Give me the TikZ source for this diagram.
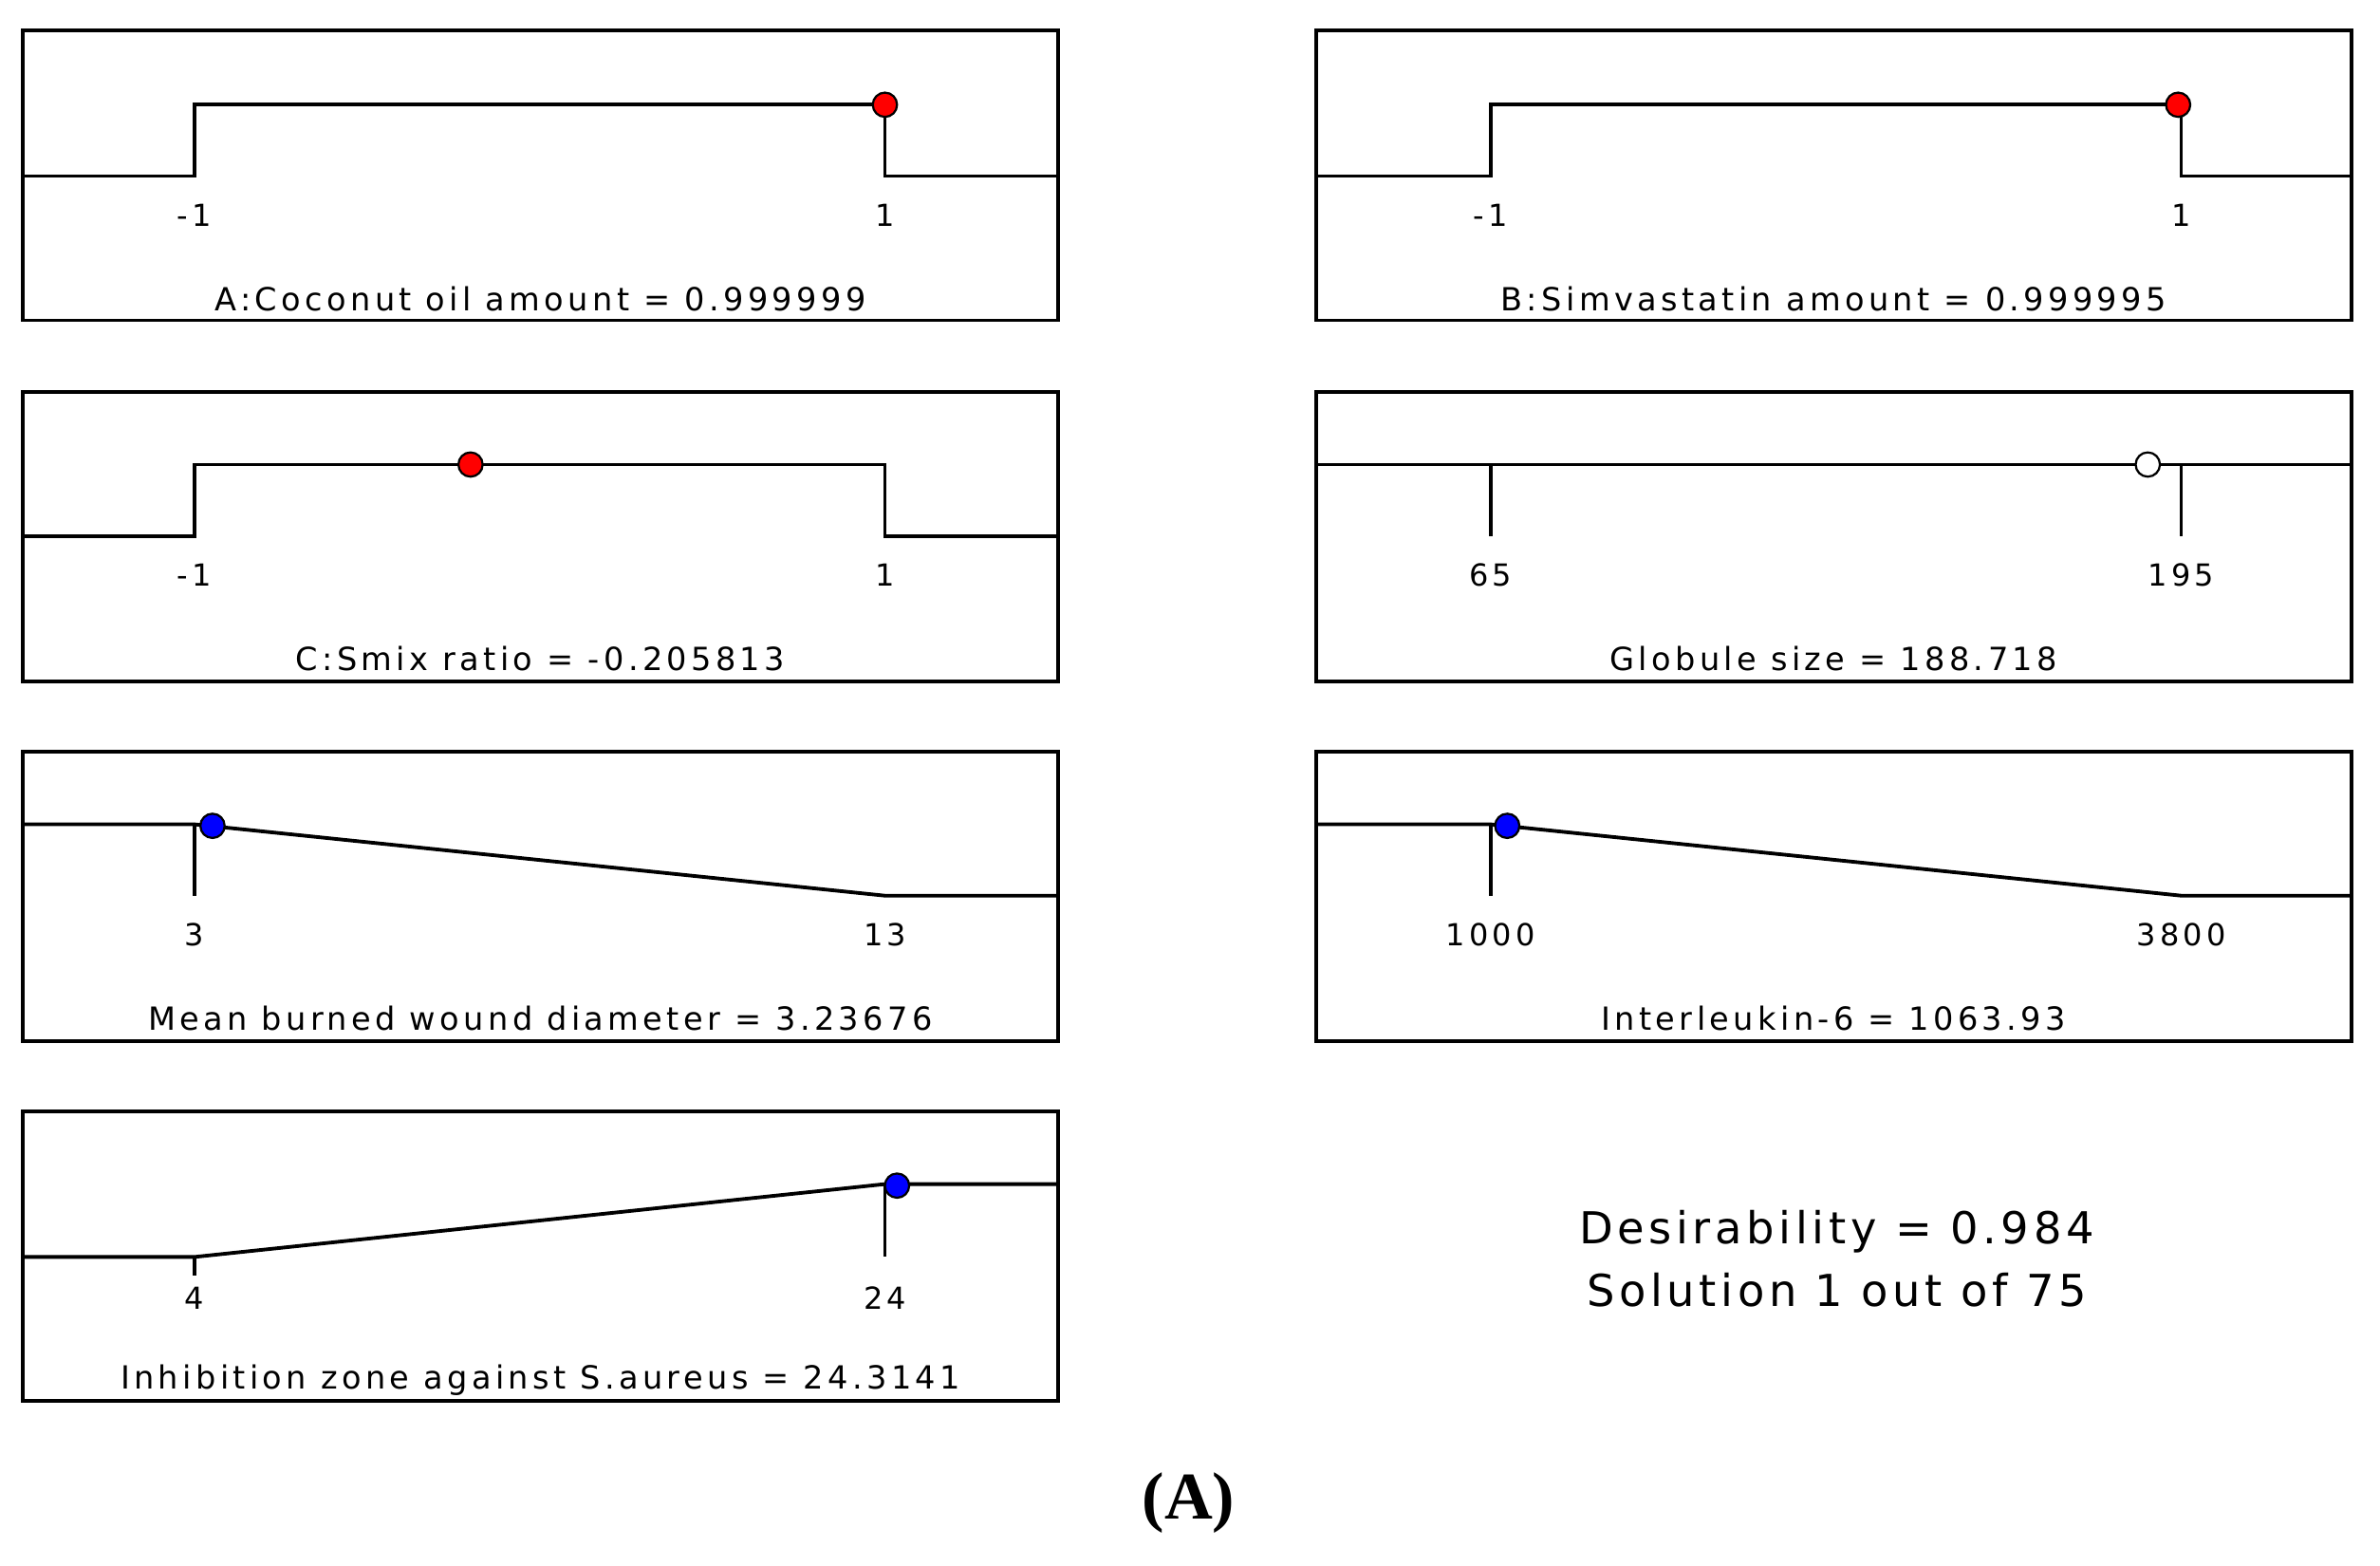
\documentclass[tikz,border=0pt]{standalone}
\usepackage{fontspec}
\setmainfont[LetterSpace=13]{DejaVu Sans}
\newfontfamily\desfont[LetterSpace=10]{DejaVu Sans}
\newfontfamily\serifA{Liberation Serif}
\begin{document}
\begin{tikzpicture}[x=1pt,y=-1pt,
  panel/.style={draw,line width=2.4pt},
  curve/.style={line width=2.4pt},
  lab/.style={font=\fontsize{20}{22}\selectfont},
  ttl/.style={font=\fontsize{21}{22}\selectfont},
  rdot/.style={circle,draw,line width=1.4pt,fill=red,minimum size=16pt,inner sep=0pt},
  bdot/.style={circle,draw,line width=1.4pt,fill=blue,minimum size=16pt,inner sep=0pt},
  wdot/.style={circle,draw,line width=1.4pt,fill=white,minimum size=16pt,inner sep=0pt}]
\useasboundingbox (0,0) rectangle (1568,1031);
% panels
\foreach \x/\n in {15/L,867/R}{
  \foreach \y/\r in {20/1,258/2,495/3}{
    \draw[panel] (\x,\y) rectangle ++(682,191);
  }
}
\draw[panel] (15,732) rectangle ++(682,191);
% A
\draw[curve] (15,116) -- (128,116) -- (128,69) -- (583,69) -- (583,116) -- (697,116);
\node[rdot] (dA) at (583,69) {};
\node[lab] at (128,142) {-1}; \node[lab] at (583,142) {1};
\node[ttl] at (356,197) {A:Coconut oil amount = 0.999999};
% B
\draw[curve] (867,116) -- (982,116) -- (982,69) -- (1437,69) -- (1437,116) -- (1549,116);
\node[rdot] (dB) at (1435,69) {};
\node[lab] at (982,142) {-1}; \node[lab] at (1437,142) {1};
\node[ttl] at (1208,197) {B:Simvastatin amount = 0.999995};
% C
\draw[curve] (15,353) -- (128,353) -- (128,306) -- (583,306) -- (583,353) -- (697,353);
\node[rdot] (dC) at (310,306) {};
\node[lab] at (128,379) {-1}; \node[lab] at (583,379) {1};
\node[ttl] at (356,434) {C:Smix ratio = -0.205813};
% Globule
\draw[curve] (867,306) -- (1549,306);
\draw[curve] (982,306) -- (982,353);
\draw[curve] (1437,306) -- (1437,353);
\node[wdot] (dG) at (1415,306) {};
\node[lab] at (982,379) {65}; \node[lab] at (1437,379) {195};
\node[ttl] at (1208,434) {Globule size = 188.718};
% Mean burned
\draw[curve] (15,543) -- (128,543) -- (583,590) -- (697,590);
\draw[curve] (128,543) -- (128,590);
\node[bdot] (dM) at (140,544) {};
\node[lab] at (128,616) {3}; \node[lab] at (583,616) {13};
\node[ttl] at (356,671) {Mean burned wound diameter = 3.23676};
% IL-6
\draw[curve] (867,543) -- (982,543) -- (1437,590) -- (1549,590);
\draw[curve] (982,543) -- (982,590);
\node[bdot] (dI) at (993,544) {};
\node[lab] at (982,616) {1000}; \node[lab] at (1437,616) {3800};
\node[ttl] at (1208,671) {Interleukin-6 = 1063.93};
% Inhibition
\draw[curve] (15,828) -- (128,828) -- (583,780) -- (697,780);
\draw[curve] (128,828) -- (128,840);
\draw[curve] (583,780) -- (583,828);
\node[bdot] (dZ) at (591,781) {};
\node[lab] at (128,855) {4}; \node[lab] at (583,855) {24};
\node[ttl] at (356,909) {Inhibition zone against S.aureus = 24.3141};
% desirability
\node[font=\desfont\fontsize{29}{41}\selectfont,align=center] (des) at (1210,829) {Desirability = 0.984\\Solution 1 out of 75};
\node[font=\serifA\bfseries\fontsize{44}{50}\selectfont] (capA) at (783,990) {(A)};
\end{tikzpicture}
\end{document}
